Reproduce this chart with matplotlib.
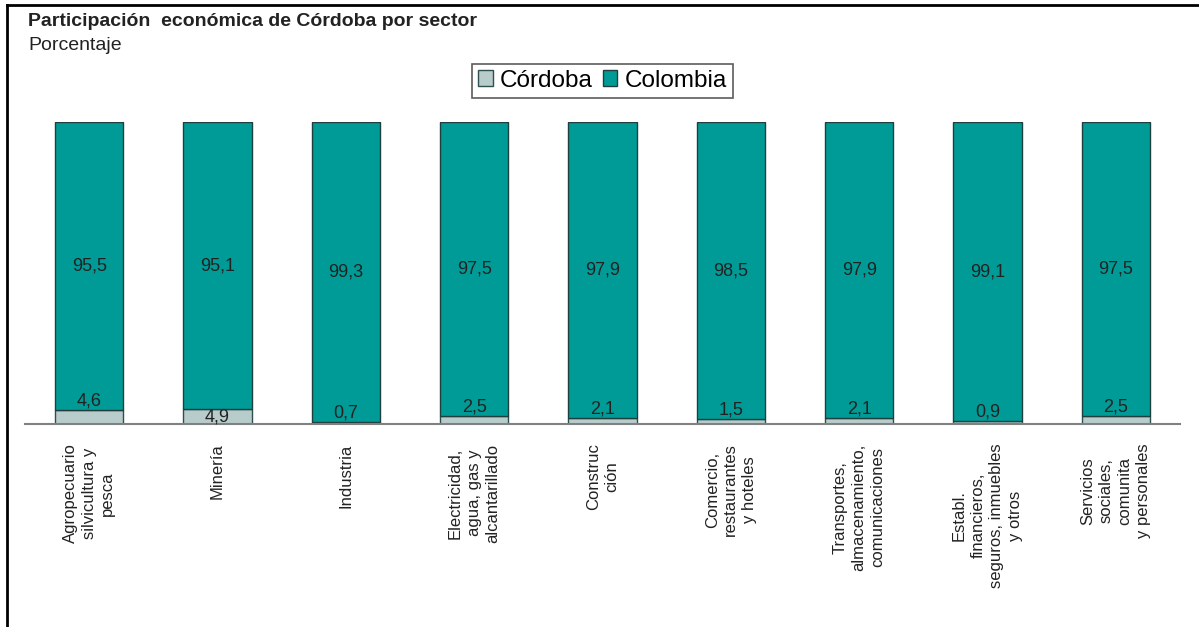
# Participación económica de Córdoba por sector
import matplotlib
matplotlib.use('Agg')
import matplotlib.pyplot as plt
from matplotlib.lines import Line2D

sectores = ["Agropecuario\nsilvicultura y\npesca", "Minería", "Industria",
            "Electricidad,\nagua, gas y\nalcantarillado", "Construc\nción",
            "Comercio,\nrestaurantes\ny hoteles",
            "Transportes,\nalmacenamiento,\ncomunicaciones",
            "Establ.\nfinancieros,\nseguros, inmuebles\ny otros",
            "Servicios\nsociales,\ncomunita\ny personales"]
cordoba = [4.6, 4.9, 0.7, 2.5, 2.1, 1.5, 2.1, 0.9, 2.5]
colombia = [95.5, 95.1, 99.3, 97.5, 97.9, 98.5, 97.9, 99.1, 97.5]

def fmt(v):
    return f"{v:.1f}".replace(".", ",")

plt.rcParams['font.family'] = ['Liberation Sans', 'DejaVu Sans']

fig = plt.figure(figsize=(11.99, 6.27), dpi=100)
ax = fig.add_axes([25/1199, 1-424/627, 1155/1199, (424-122)/627])

x = list(range(len(sectores)))
w = 0.53
ax.bar(x, cordoba, width=w, color='#b8cccc', edgecolor='#2f4f4f', linewidth=1, label='Córdoba')
ax.bar(x, colombia, width=w, bottom=cordoba, color='#009b96', edgecolor='#1f3f3f', linewidth=1, label='Colombia')

for i in x:
    ax.text(i, cordoba[i] + colombia[i] / 2, fmt(colombia[i]), ha='center', va='center',
            fontsize=13, color='#222222')
    yc = cordoba[i] / 2 if cordoba[i] > 4.8 else cordoba[i] + 3
    ax.text(i, yc, fmt(cordoba[i]), ha='center', va='center',
            fontsize=13, color='#222222')

ax.set_xlim(-0.5, len(sectores) - 0.5)
ax.set_ylim(0, 100)
for s in ['top', 'right', 'left']:
    ax.spines[s].set_visible(False)
ax.spines['bottom'].set_color('#808080')
ax.spines['bottom'].set_linewidth(1.5)
ax.set_yticks([])
ax.set_xticks(x)
ax.set_xticklabels(sectores, rotation=90, ha='center', va='top', multialignment='center',
                   fontsize=12, color='#222222', linespacing=1.3)
ax.tick_params(axis='x', length=0, pad=14)

leg = ax.legend(loc='lower center', bbox_to_anchor=(0.5, 1.08), ncol=2, fontsize=17.5,
                frameon=True, fancybox=False, edgecolor='#333333', handlelength=0.6,
                handleheight=0.6, handletextpad=0.3, columnspacing=0.4,
                borderpad=0.25, borderaxespad=0)
leg.get_frame().set_linewidth(1.2)

fig.text(28/1199, 1-22/627, "Participación  económica de Córdoba por sector", fontsize=14,
         fontweight='bold', va='center', color='#222222')
fig.text(28/1199, 1-45/627, "Porcentaje", fontsize=14, va='center', color='#222222')

# marco de la figura (arriba e izquierda)
fig.add_artist(Line2D([7/1199, 7/1199], [0, 1-5/627], color='black', linewidth=2))
fig.add_artist(Line2D([7/1199, 1], [1-5/627, 1-5/627], color='black', linewidth=2))

fig.savefig('out.png', dpi=100)
